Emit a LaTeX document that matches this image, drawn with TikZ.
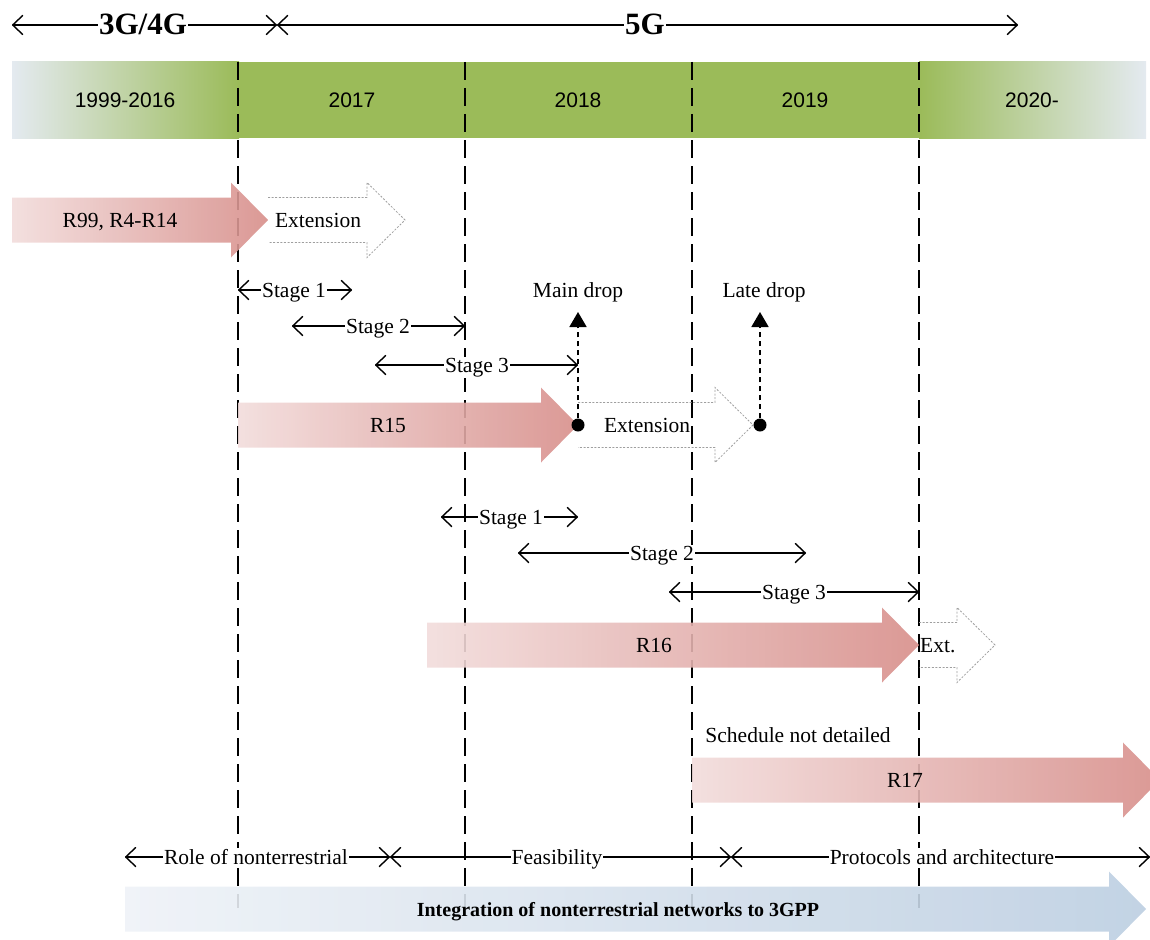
\documentclass[tikz,border=0pt]{standalone}
\usepackage{fontspec}
\setmainfont{Liberation Serif}
\newfontfamily\arialf{Liberation Sans}
\usetikzlibrary{arrows.meta}
\definecolor{barGreen}{HTML}{9BBB59}
\definecolor{barLight}{HTML}{E4EAF0}
\definecolor{redL}{HTML}{F2DCDB}
\definecolor{redR}{HTML}{D78E8A}
\definecolor{blueL}{HTML}{EEF2F7}
\definecolor{blueR}{HTML}{BCCEE1}
\newcommand{\blockarrow}[4]{%
  \shade[#1] (#2,#4-22.5) -- (#3-37,#4-22.5) -- (#3-37,#4-37.5) -- (#3,#4)
    -- (#3-37,#4+37.5) -- (#3-37,#4+22.5) -- (#2,#4+22.5) -- cycle;}
\newcommand{\extoutline}[3]{%
  \draw[extline] (#1,#3-22.5) -- (#2-38,#3-22.5) -- (#2-38,#3-37.5) -- (#2,#3)
    -- (#2-38,#3+37.5) -- (#2-38,#3+22.5) -- (#1,#3+22.5);}
\begin{document}
\begin{tikzpicture}[x=1pt,y=-1pt,
  >={Straight Barb[length=10pt,width=19pt,line width=1.4pt,round]},
  lbl/.style={font=\fontsize{21.5}{25}\selectfont, inner sep=1pt, anchor=base, yshift=-7pt},
  wlbl/.style={lbl, fill=white},
  yearlbl/.style={font=\arialf\fontsize{21}{25}\selectfont, inner sep=0pt, anchor=base, yshift=-7.5pt},
  biglbl/.style={font=\bfseries\fontsize{31}{34}\selectfont, inner sep=1pt, fill=white, anchor=base, yshift=-10pt},
  span/.style={line width=1.4pt, <->},
  vline/.style={line width=1.4pt, dash pattern=on 18pt off 8pt},
  redarrow/.style={left color=redL, right color=redR, fill opacity=0.9},
  bluearrow/.style={left color=blueL, right color=blueR, fill opacity=0.9},
  extline/.style={draw=gray!75, line width=0.8pt, dash pattern=on 2pt off 1.6pt},
  drop/.style={line width=1.8pt, dash pattern=on 5pt off 4pt, -{Triangle[length=15pt,width=17pt]}},
  dot/.style={circle, fill=black, inner sep=0pt, minimum size=13pt}
]
\useasboundingbox (0,0) rectangle (1150,939);

% top eras
\coordinate (e1) at (12,25);
\coordinate (e2) at (277,25);
\coordinate (e3) at (1018,25);
\draw[span] (e1) -- (e2);
\draw[span] (e2) -- (e3);
\node[biglbl] (g34) at (143,25) {3G/4G};
\node[biglbl] (g5) at (645,25) {5G};

% year bar
\shade[left color=barLight, right color=barGreen] (12,62) rectangle (239,138);
\fill[barGreen] (238,62) rectangle (920,138);
\shade[left color=barGreen, right color=barLight] (919,62) rectangle (1146,138);
\node[yearlbl] (y1) at (125,100) {1999-2016};
\node[yearlbl] (y2) at (352,100) {2017};
\node[yearlbl] (y3) at (578,100) {2018};
\node[yearlbl] (y4) at (805,100) {2019};
\node[yearlbl] (y5) at (1032,100) {2020-};

% vertical year boundaries
\foreach \n/\x in {1/238,2/465,3/692,4/919}{
  \coordinate (vt\n) at (\x,62);
  \coordinate (vb\n) at (\x,908);
  \draw[vline] (vt\n) -- (vb\n);
}

% release arrows
\blockarrow{redarrow}{12}{268}{220}
\blockarrow{redarrow}{238}{578}{425}
\blockarrow{redarrow}{427}{919}{645}
\blockarrow{redarrow}{692}{1160}{780}
\blockarrow{bluearrow}{125}{1146}{909}

% extension outlines
\extoutline{268}{405}{220}
\extoutline{578}{753}{425}
\extoutline{919}{995}{645}

% release labels
\node[lbl] (r99) at (120,220) {R99, R4-R14};
\node[lbl] (ext1) at (318,220) {Extension};
\node[lbl] (r15) at (388,425) {R15};
\node[lbl] (ext2) at (647,425) {Extension};
\node[lbl] (r16) at (654,645) {R16};
\node[lbl, anchor=base west] (ext3) at (919,645) {Ext.};
\node[lbl] (sched) at (798,735) {Schedule not detailed};
\node[lbl] (r17) at (905,780) {R17};
\node[lbl, font=\bfseries\fontsize{20}{24}\selectfont] (integ) at (618,909) {Integration of nonterrestrial networks to 3GPP};

% R15 stages
\coordinate (a1l) at (238,290); \coordinate (a1r) at (352,290);
\coordinate (a2l) at (292,326); \coordinate (a2r) at (465,326);
\coordinate (a3l) at (375,365); \coordinate (a3r) at (578,365);
\draw[span] (a1l) -- (a1r);
\draw[span] (a2l) -- (a2r);
\draw[span] (a3l) -- (a3r);
\node[wlbl] (st11) at (294,290) {Stage 1};
\node[wlbl] (st12) at (378,326) {Stage 2};
\node[wlbl] (st13) at (477,365) {Stage 3};

% drops
\node[dot] (d1) at (578,425) {};
\node[dot] (d2) at (760,425) {};
\coordinate (d1t) at (578,312);
\coordinate (d2t) at (760,312);
\draw[drop] (d1) -- (d1t);
\draw[drop] (d2) -- (d2t);
\node[lbl] (md) at (578,290) {Main drop};
\node[lbl] (ld) at (764,290) {Late drop};

% R16 stages
\coordinate (b1l) at (441,517); \coordinate (b1r) at (578,517);
\coordinate (b2l) at (518,553); \coordinate (b2r) at (806,553);
\coordinate (b3l) at (669,592); \coordinate (b3r) at (919,592);
\draw[span] (b1l) -- (b1r);
\draw[span] (b2l) -- (b2r);
\draw[span] (b3l) -- (b3r);
\node[wlbl] (st21) at (511,517) {Stage 1};
\node[wlbl] (st22) at (662,553) {Stage 2};
\node[wlbl] (st23) at (794,592) {Stage 3};

% phases
\coordinate (p0) at (125,857);
\coordinate (p1) at (390,857);
\coordinate (p2) at (731,857);
\coordinate (p3) at (1150,857);
\draw[span] (p0) -- (p1);
\draw[span] (p1) -- (p2);
\draw[span] (p2) -- (p3);
\node[wlbl] (ph1) at (256,857) {Role of nonterrestrial};
\node[wlbl] (ph2) at (557,857) {Feasibility};
\node[wlbl] (ph3) at (942,857) {Protocols and architecture};
\end{tikzpicture}
\end{document}
